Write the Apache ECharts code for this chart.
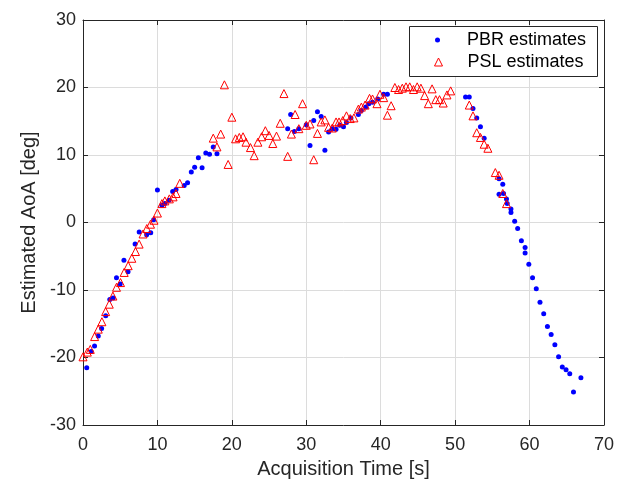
<!DOCTYPE html>
<html>
<head>
    <meta charset="utf-8">
    <title>AoA estimates</title>
    <script src="https://cdn.jsdelivr.net/npm/echarts@6/dist/echarts.min.js"></script>
</head>
<body style="margin:0">
<div id="main" style="width: 617px;height:486px;"></div>
<script type="text/javascript">
    // PBR estimates: [time s, AoA deg]
    var pbrData = [
        [0.5,-21.5],[1.1,-19.1],[1.55,-18.3],[2.05,-16.8],[2.5,-15.7],[3.05,-13.8],[3.6,-11.4],[4.05,-11.2],
        [4.5,-8.2],[5.0,-9.1],[5.5,-5.6],[6.05,-7.3],[7.0,-3.2],[7.55,-1.4],[8.55,-1.8],[9.1,-1.5],[9.5,0.4],
        [10.0,4.8],[10.6,2.55],[11.0,2.8],[11.55,3.3],[12.05,4.6],[12.5,4.9],[13.6,5.5],[14.05,5.9],[14.55,7.5],
        [15.0,8.2],[15.5,9.6],[16.0,8.1],[16.5,10.3],[17.0,10.1],[17.5,11.2],[18.0,10.2],
        [27.5,13.9],[27.9,16.0],[28.4,13.5],[29.0,13.9],[30.0,14.5],[30.5,11.4],[31.0,15.1],[31.5,16.4],
        [32.0,15.7],[32.5,10.7],[33.0,13.4],[33.5,13.9],[34.0,13.8],[34.5,14.4],[35.0,14.2],[35.4,14.8],
        [36.0,15.5],[37.0,16.0],[37.4,16.6],[38.0,17.1],[38.4,17.6],[38.9,17.8],[39.6,18.3],[40.4,19.0],[40.9,19.0],
        [51.4,18.6],[51.9,18.6],[52.4,16.9],[52.9,15.5],[53.4,14.2],[53.9,12.5],
        [55.9,6.5],[56.4,5.65],[55.9,4.2],[56.5,4.3],[56.9,3.5],[57.0,2.8],[57.5,2.0],[57.5,1.5],[58.0,0.2],
        [58.4,-0.9],[58.9,-2.7],[59.4,-3.7],[59.4,-4.5],[59.9,-6.2],[60.4,-8.2],[60.9,-9.8],[61.4,-11.8],
        [61.9,-13.5],[62.4,-15.4],[62.9,-16.6],[63.4,-18.1],[63.9,-19.9],[64.4,-21.4],[64.9,-21.8],
        [65.4,-22.4],[65.9,-25.1],[66.9,-23.0]
    ];

    // PSL estimates: [time s, AoA deg]
    var pslData = [
        [0,-19.9],[0.58,-19.2],[0.98,-18.8],[1.56,-16.9],[2.05,-15.8],[2.54,-14.7],[3.04,-13.2],[3.53,-12.1],
        [4.02,-10.9],[4.5,-9.6],[5.04,-8.9],[5.53,-7.4],[6.07,-6.4],[6.56,-5.3],[7.05,-4.3],[7.54,-3.2],
        [8.07,-1.7],[8.57,-0.9],[9.07,-0.25],[9.54,0.34],[10.0,1.4],[10.6,2.8],[11.0,3.2],[11.6,3.5],
        [12.1,3.8],[12.5,4.3],[13.0,5.8],
        [17.5,12.5],[18.0,11.2],[18.5,13.1],[19.0,20.4],[19.5,8.6],[20.0,15.6],[20.5,12.4],[21.0,12.6],
        [21.5,12.7],[21.9,11.9],[22.5,11.1],[23.0,9.9],[23.5,11.9],[24.0,12.7],[24.5,13.6],[25.0,12.9],
        [25.5,11.7],[26.0,12.8],[26.5,14.7],[27.0,19.1],[27.5,9.8],[28.0,13.1],[28.5,16.0],[29.0,13.9],
        [29.5,17.6],[30.0,14.4],[30.5,14.6],[31.0,9.3],[31.5,13.2],[32.0,14.9],[32.5,15.2],[33.0,14.1],
        [33.5,14.0],[34.0,14.9],[34.4,14.9],[34.9,15.1],[35.4,15.8],[35.9,15.4],[36.4,15.5],[37.0,16.8],
        [37.4,17.1],[37.9,17.4],[38.5,18.4],[38.9,18.3],[39.5,17.6],[39.9,19.0],[40.4,18.5],[40.9,15.9],
        [41.4,17.3],[41.9,20.0],[42.4,19.7],[42.9,19.9],[43.4,20.1],[43.9,20.1],[44.4,19.7],[44.9,20.1],
        [45.4,19.9],[45.9,18.8],[46.4,17.6],[46.9,19.8],[47.4,18.2],[47.9,18.2],[48.4,17.7],[48.9,18.9],
        [49.4,19.5],
        [51.9,17.4],[52.4,15.8],[52.9,13.3],[53.4,12.6],[53.9,11.6],[54.4,11.0],[55.4,7.4],[55.9,7.0],
        [56.4,4.3],[56.9,2.8]
    ];

    var font = "'Liberation Sans', Arial, Helvetica, sans-serif";
    var labelColor = '#262626';

    var myChart = echarts.init(document.getElementById('main'));

    // top / right axes only draw the box and the inner ticks
    function frameAxis(pos, min, max) {
        return {
            type: 'value', position: pos, min: min, max: max, interval: 10,
            axisLine: {show: true, onZero: false, lineStyle: {color: '#262626', width: 1}},
            axisTick: {show: true, inside: true, length: 5, lineStyle: {color: '#262626'}},
            axisLabel: {show: false},
            splitLine: {show: false}
        };
    }

    var option = {
        backgroundColor: '#fff',
        animation: false,
        grid: {left: 83, right: 11, top: 20, bottom: 61},
        legend: [
            {
                data: ['PBR estimates'],
                left: 435, top: 31, padding: 0,
                itemWidth: 5, itemHeight: 5,
                textStyle: {fontFamily: font, fontSize: 18, color: '#000', padding: [0, 0, 0, 22]}
            },
            {
                data: ['PSL estimates'],
                left: 434, top: 53, padding: 0,
                itemWidth: 8, itemHeight: 8,
                itemStyle: {borderWidth: 1},
                textStyle: {fontFamily: font, fontSize: 18, color: '#000', padding: [0, 0, 0, 20]}
            }
        ],
        graphic: [{
            type: 'rect', left: 409, top: 26, z: 1,
            shape: {width: 188, height: 50},
            style: {fill: '#fff', stroke: '#262626', lineWidth: 1}
        }],
        xAxis: [
            {
                type: 'value', min: 0, max: 70, interval: 10,
                name: 'Acquisition Time [s]', nameLocation: 'middle', nameGap: 34,
                nameTextStyle: {fontFamily: font, fontSize: 20, color: labelColor},
                axisLine: {show: true, onZero: false, lineStyle: {color: '#262626'}},
                axisTick: {show: true, inside: true, length: 5, lineStyle: {color: '#262626'}},
                axisLabel: {fontFamily: font, fontSize: 18, color: labelColor, margin: 11},
                splitLine: {show: true, lineStyle: {color: '#dcdcdc', width: 1}}
            },
            frameAxis('top', 0, 70)
        ],
        yAxis: [
            {
                type: 'value', min: -30, max: 30, interval: 10,
                name: 'Estimated AoA [deg]', nameLocation: 'middle', nameGap: 38,
                nameTextStyle: {fontFamily: font, fontSize: 20, color: labelColor},
                axisLine: {show: true, onZero: false, lineStyle: {color: '#262626'}},
                axisTick: {show: true, inside: true, length: 5, lineStyle: {color: '#262626'}},
                axisLabel: {fontFamily: font, fontSize: 18, color: labelColor, margin: 7},
                splitLine: {show: true, lineStyle: {color: '#dcdcdc', width: 1}}
            },
            frameAxis('right', -30, 30)
        ],
        series: [
            {
                name: 'PBR estimates', type: 'scatter',
                data: pbrData,
                symbol: 'circle', symbolSize: 5,
                itemStyle: {color: '#0000ff', opacity: 1},
                z: 3
            },
            {
                name: 'PSL estimates', type: 'scatter',
                data: pslData,
                symbol: 'triangle', symbolSize: 8,
                itemStyle: {color: 'rgba(255,255,255,0)', borderColor: '#ff0000', borderWidth: 1, opacity: 1},
                z: 4
            }
        ]
    };

    myChart.setOption(option);
</script>
</body>
</html>
